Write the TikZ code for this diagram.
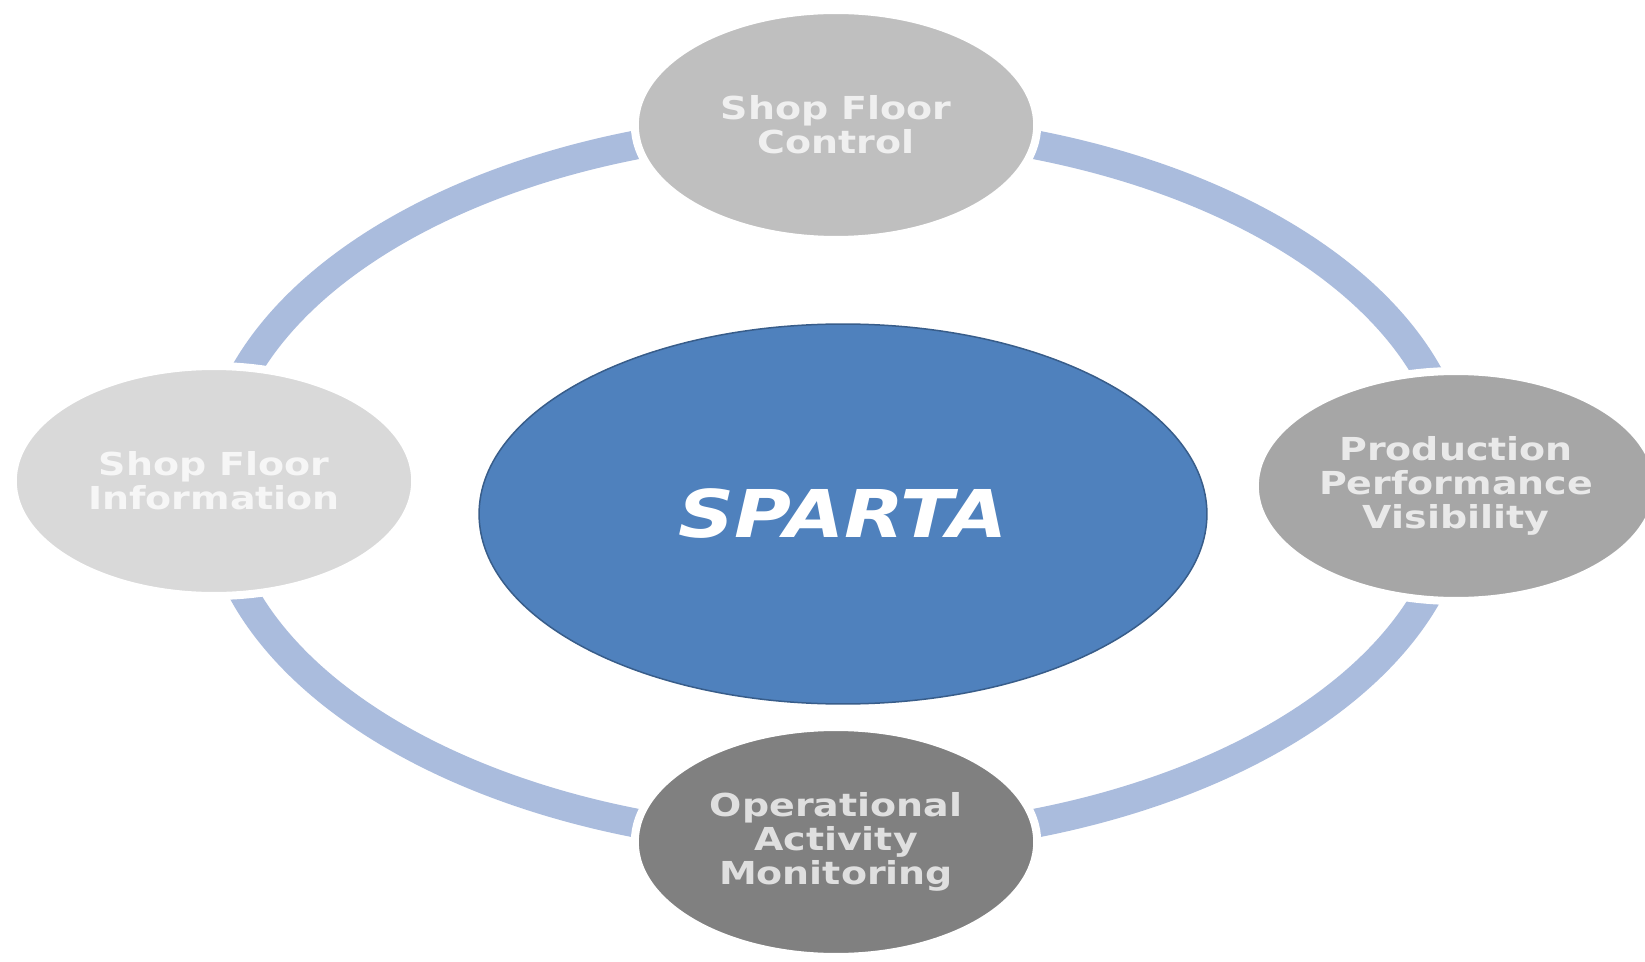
\documentclass[tikz,border=0pt]{standalone}
\usepackage{fontspec}
\newfontfamily\satfont[FakeStretch=1.2]{DejaVu Sans}
\newfontfamily\hubfont[FakeStretch=1.18]{DejaVu Sans}
\usetikzlibrary{shapes.geometric}
\definecolor{ringblue}{RGB}{170,188,221}
\definecolor{hubblue}{RGB}{79,129,189}
\definecolor{hubline}{RGB}{56,93,138}
\definecolor{grayinfo}{RGB}{217,217,217}
\definecolor{grayctrl}{RGB}{191,191,191}
\definecolor{grayperf}{RGB}{166,166,166}
\definecolor{graymon}{RGB}{128,128,128}
\tikzset{
  sat/.style={ellipse, fill=#1, draw=white, line width=0.16cm,
    minimum width=8.05cm, minimum height=4.6cm, inner sep=0pt,
    align=center, text=white!75!#1,
    font=\satfont\bfseries\fontsize{18}{19.5}\selectfont},
  hub/.style={ellipse, fill=hubblue, draw=hubline, line width=0.03cm,
    minimum width=14.56cm, minimum height=7.6cm, inner sep=0pt,
    text=white, font=\hubfont\bfseries\itshape\fontsize{37.5}{40}\selectfont}
}
\begin{document}
\begin{tikzpicture}[x=0.02cm,y=-0.02cm]
\fill[white] (0,0) rectangle (1645,962);
\useasboundingbox (0,0) rectangle (1645,962);
\coordinate (O) at (836,484);
\coordinate (T) at (836,125);
\coordinate (L) at (214,481);
\coordinate (R) at (1456,486);
\coordinate (B) at (836,842);
% ring behind the four satellites
\draw [ringblue, line width=0.58cm] (O) ellipse [x radius=622, y radius=358];
\node[hub] (sparta) at (843,514) {SPARTA};
\node[sat=grayctrl] (ctrl) at (T) {Shop Floor\\Control};
\node[sat=grayinfo] (info) at (L) {Shop Floor\\Information};
\node[sat=grayperf] (perf) at (R) {Production\\Performance\\Visibility};
\node[sat=graymon] (mon) at (B) {Operational\\Activity\\Monitoring};
\end{tikzpicture}
\end{document}
